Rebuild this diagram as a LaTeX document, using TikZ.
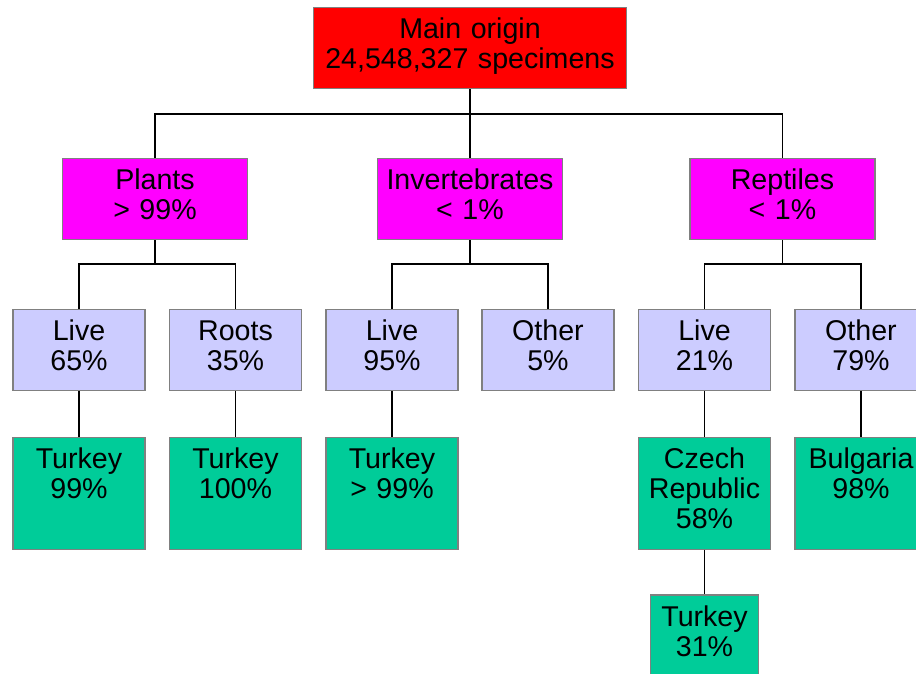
\documentclass[tikz,border=0pt]{standalone}
\usepackage{fontspec}
\setmainfont{Liberation Sans}
\usetikzlibrary{positioning}
\definecolor{rootred}{RGB}{255,0,0}
\definecolor{groupmagenta}{RGB}{255,0,255}
\definecolor{partlilac}{RGB}{204,204,255}
\definecolor{sourcegreen}{RGB}{0,204,153}
\definecolor{edgegray}{RGB}{128,128,128}

\begin{document}
\begin{tikzpicture}[
    x=1pt, y=1pt,
    box/.style={rectangle, draw=edgegray, line width=1.2pt, anchor=north,
                inner xsep=0pt, inner ysep=0pt, align=center,
                font=\fontsize{28.6}{30}\selectfont,
                text height=31pt, text depth=50pt},
    origin/.style={box, fill=rootred, text width=313pt},
    group/.style={box, fill=groupmagenta, text width=185pt},
    part/.style={box, fill=partlilac, text width=132pt},
    country/.style={box, fill=sourcegreen, text width=132pt, text depth=81pt},
    link/.style={line width=1.5pt}
]
    \useasboundingbox (0,0) rectangle (916,-673);
    \clip (0,0) rectangle (916,-673);

    % Root
    \node[origin] (main) at (470,-7) {Main origin\\24,548,327 specimens};

    % First row - groups
    \node[group] (plants) at (155,-158) {Plants\\> 99\%};
    \node[group] (invert) at (470,-158) {Invertebrates\\< 1\%};
    \node[group] (reptiles) at (782.5,-158) {Reptiles\\< 1\%};

    % Second row - parts
    \node[part] (plant-live) at (79,-309) {Live\\65\%};
    \node[part] (plant-roots) at (235.5,-309) {Roots\\35\%};
    \node[part] (invert-live) at (392,-309) {Live\\95\%};
    \node[part] (invert-other) at (548,-309) {Other\\5\%};
    \node[part] (rept-live) at (704.5,-309) {Live\\21\%};
    \node[part] (rept-other) at (861,-309) {Other\\79\%};

    % Third row - countries
    \node[country, below=45.5pt of plant-live] (turkey1) {Turkey\\99\%};
    \node[country, below=45.5pt of plant-roots] (turkey2) {Turkey\\100\%};
    \node[country, below=45.5pt of invert-live] (turkey3) {Turkey\\> 99\%};
    \node[country, below=45.5pt of rept-live] (czech) {Czech\\Republic\\58\%};
    \node[country, below=45.5pt of rept-other] (bulgaria) {Bulgaria\\98\%};
    \node[country, below=44.5pt of czech, text width=108pt, text depth=50pt] (turkey4) {Turkey\\31\%};

    % Links
    \draw[link] (main.south) -- ++(0,-25) -| (plants.north);
    \draw[link] (main.south) -- (invert.north);
    \draw[link] (main.south) -- ++(0,-25) -| (reptiles.north);

    \draw[link] (plants.south) -- ++(0,-24) -| (plant-live.north);
    \draw[link] (plants.south) -- ++(0,-24) -| (plant-roots.north);
    \draw[link] (invert.south) -- ++(0,-24) -| (invert-live.north);
    \draw[link] (invert.south) -- ++(0,-24) -| (invert-other.north);
    \draw[link] (reptiles.south) -- ++(0,-24) -| (rept-live.north);
    \draw[link] (reptiles.south) -- ++(0,-24) -| (rept-other.north);

    \draw[link] (plant-live) -- (turkey1);
    \draw[link] (plant-roots) -- (turkey2);
    \draw[link] (invert-live) -- (turkey3);
    \draw[link] (rept-live) -- (czech);
    \draw[link] (rept-other) -- (bulgaria);
    \draw[link] (czech) -- (turkey4);
\end{tikzpicture}
\end{document}
